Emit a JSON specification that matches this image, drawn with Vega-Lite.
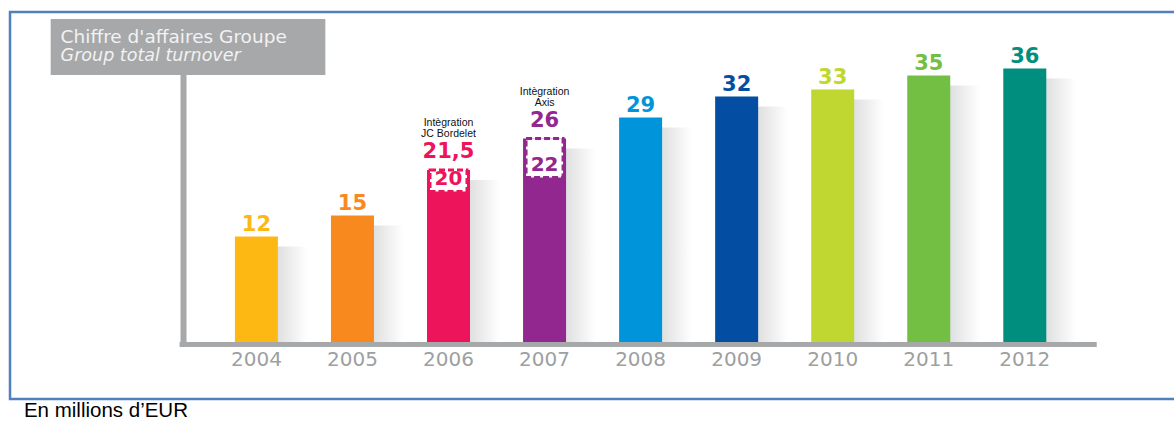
{
  "$schema": "https://vega.github.io/schema/vega-lite/v6.json",
  "autosize": {"type": "none"},
  "padding": {"left": 10, "top": 12, "right": 0, "bottom": 22},
  "width": 1170,
  "height": 387,
  "background": "white",
  "config": {"view": {"stroke": "#4F81BD", "strokeWidth": 2.5}},
  "data": {
    "values": [
      {"year": 2004, "value": 12, "label": "12"},
      {"year": 2005, "value": 15, "label": "15"},
      {"year": 2006, "value": 21.5, "label": "21,5", "organic": 20, "organicLabel": "20", "note": "Intègration\nJC Bordelet"},
      {"year": 2007, "value": 26, "label": "26", "organic": 22, "organicLabel": "22", "note": "Intègration\nAxis"},
      {"year": 2008, "value": 29, "label": "29"},
      {"year": 2009, "value": 32, "label": "32"},
      {"year": 2010, "value": 33, "label": "33"},
      {"year": 2011, "value": 35, "label": "35"},
      {"year": 2012, "value": 36, "label": "36"}
    ]
  },
  "layer": [
    {
      "data": {"values": [{}]},
      "mark": {"type": "rect", "color": "#A7A8AA"},
      "encoding": {
        "x": {"datum": 2001.858, "type": "quantitative", "scale": {"domain": [2001.4865, 2013.5639], "nice": false, "zero": false}, "axis": null},
        "x2": {"datum": 2004.7175},
        "y": {"datum": 43.07, "type": "quantitative", "scale": {"domain": [-11.2, 44.07], "nice": false, "zero": false}, "axis": null},
        "y2": {"datum": 35.07}
      }
    },
    {
      "data": {"values": [{"t": "Chiffre d'affaires Groupe"}]},
      "mark": {"type": "text", "align": "left", "baseline": "alphabetic", "font": "DejaVu Sans", "fontSize": 18.5, "color": "#F2F2F2"},
      "encoding": {
        "x": {"datum": 2001.9613, "type": "quantitative"},
        "y": {"datum": 39.65, "type": "quantitative"},
        "text": {"field": "t"}
      }
    },
    {
      "data": {"values": [{"t": "Group total turnover"}]},
      "mark": {"type": "text", "align": "left", "baseline": "alphabetic", "font": "DejaVu Sans", "fontSize": 17.5, "fontStyle": "italic", "color": "#F2F2F2"},
      "encoding": {
        "x": {"datum": 2001.9613, "type": "quantitative"},
        "y": {"datum": 37.08, "type": "quantitative"},
        "text": {"field": "t"}
      }
    },
    {
      "data": {"values": [{"t": "En millions d’EUR"}]},
      "mark": {"type": "text", "align": "left", "baseline": "middle", "font": "Liberation Sans", "fontSize": 20.5, "color": "#000000"},
      "encoding": {
        "x": {"datum": 2001.5794, "type": "quantitative"},
        "y": {"datum": -12.91, "type": "quantitative"},
        "text": {"field": "t"}
      }
    },
    {
      "mark": {
        "type": "bar",
        "width": 30,
        "xOffset": 36,
        "yOffset": 10,
        "opacity": 0.6,
        "color": {"gradient": "linear", "x1": 0, "y1": 0, "x2": 1, "y2": 0, "stops": [{"offset": 0, "color": "#C9CACC"}, {"offset": 1, "color": "#FFFFFF"}]}
      },
      "encoding": {
        "x": {"field": "year", "type": "quantitative"},
        "y": {"field": "value", "type": "quantitative"},
        "y2": {"datum": -3.43}
      }
    },
    {
      "mark": {"type": "bar", "width": 43},
      "encoding": {
        "x": {"field": "year", "type": "quantitative"},
        "y": {"field": "value", "type": "quantitative"},
        "y2": {"datum": -3.43},
        "color": {
          "field": "year", "type": "nominal", "legend": null,
          "scale": {"domain": [2004, 2005, 2006, 2007, 2008, 2009, 2010, 2011, 2012],
                    "range": ["#FDB813", "#F7891F", "#ED145B", "#92278F", "#0095DA", "#034EA2", "#BFD730", "#72BF44", "#008F7E"]}
        }
      }
    },
    {
      "transform": [{"filter": "isValid(datum.organic)"}],
      "mark": {"type": "bar", "width": 37, "fill": "#FFFFFF", "strokeWidth": 3, "strokeDash": [6, 3], "y2Offset": 11},
      "encoding": {
        "x": {"field": "year", "type": "quantitative"},
        "y": {"field": "value", "type": "quantitative"},
        "y2": {"field": "organic"},
        "stroke": {
          "field": "year", "type": "nominal", "legend": null,
          "scale": {"domain": [2004, 2005, 2006, 2007, 2008, 2009, 2010, 2011, 2012],
                    "range": ["#FDB813", "#F7891F", "#ED145B", "#92278F", "#0095DA", "#034EA2", "#BFD730", "#72BF44", "#008F7E"]}
        }
      }
    },
    {
      "data": {"values": [{}]},
      "mark": {"type": "rule", "color": "#A7A8AA", "strokeWidth": 6},
      "encoding": {
        "x": {"datum": 2003.241, "type": "quantitative"},
        "y": {"datum": -3.43, "type": "quantitative"},
        "y2": {"datum": 35.07}
      }
    },
    {
      "data": {"values": [{}]},
      "mark": {"type": "rule", "color": "#A7A8AA", "strokeWidth": 5},
      "encoding": {
        "x": {"datum": 2003.2, "type": "quantitative"},
        "x2": {"datum": 2012.749},
        "y": {"datum": -3.43, "type": "quantitative"}
      }
    },
    {
      "transform": [{"filter": "!isValid(datum.organic)"}],
      "mark": {"type": "text", "baseline": "bottom", "dy": -2, "font": "DejaVu Sans", "fontWeight": "bold", "fontSize": 21},
      "encoding": {
        "x": {"field": "year", "type": "quantitative"},
        "y": {"field": "value", "type": "quantitative"},
        "text": {"field": "label"},
        "color": {"field": "year", "type": "nominal", "legend": null}
      }
    },
    {
      "transform": [{"filter": "isValid(datum.organic)"}],
      "mark": {"type": "text", "baseline": "bottom", "dy": -8, "font": "DejaVu Sans", "fontWeight": "bold", "fontSize": 21},
      "encoding": {
        "x": {"field": "year", "type": "quantitative"},
        "y": {"field": "value", "type": "quantitative"},
        "text": {"field": "label"},
        "color": {"field": "year", "type": "nominal", "legend": null}
      }
    },
    {
      "transform": [{"filter": "isValid(datum.organic)"}],
      "mark": {"type": "text", "baseline": "bottom", "dy": 8, "font": "DejaVu Sans", "fontWeight": "bold", "fontSize": 20},
      "encoding": {
        "x": {"field": "year", "type": "quantitative"},
        "y": {"field": "organic", "type": "quantitative"},
        "text": {"field": "organicLabel"},
        "color": {"field": "year", "type": "nominal", "legend": null}
      }
    },
    {
      "transform": [{"filter": "isValid(datum.note)"}],
      "mark": {"type": "text", "baseline": "top", "dy": -52, "lineBreak": "\n", "lineHeight": 11, "font": "Liberation Sans", "fontSize": 10.5, "color": "#111111"},
      "encoding": {
        "x": {"field": "year", "type": "quantitative"},
        "y": {"field": "value", "type": "quantitative"},
        "text": {"field": "note"}
      }
    },
    {
      "mark": {"type": "text", "baseline": "middle", "font": "DejaVu Sans", "fontSize": 20, "color": "#9D9FA2"},
      "encoding": {
        "x": {"field": "year", "type": "quantitative"},
        "y": {"datum": -5.7, "type": "quantitative"},
        "text": {"field": "year", "type": "nominal"}
      }
    }
  ]
}
